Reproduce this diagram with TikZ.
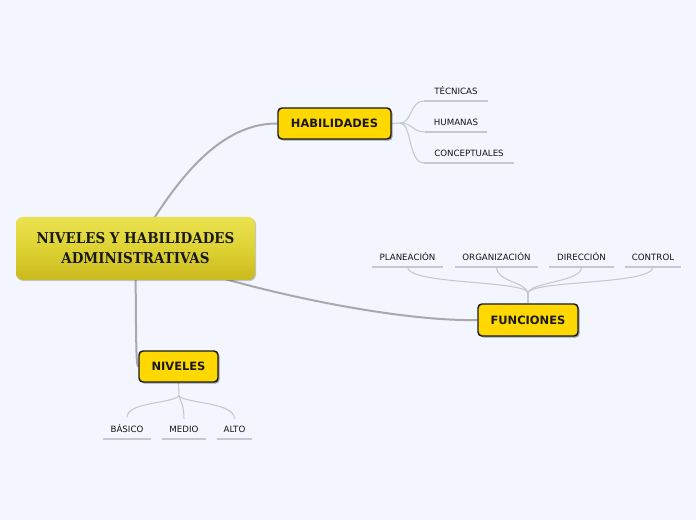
\documentclass[tikz,border=0pt]{standalone}
\usepackage{fontspec}
\setmainfont{DejaVu Sans}
\newfontfamily\titlefont{DejaVu Serif}
\usetikzlibrary{shadows,backgrounds}
\definecolor{bg}{HTML}{F3F6FE}
\definecolor{gold}{HTML}{FFD800}
\definecolor{mainline}{HTML}{A8A8AE}
\definecolor{subline}{HTML}{C6C8CE}
\definecolor{ttop}{HTML}{EAE250}
\definecolor{tmid}{HTML}{DED233}
\definecolor{tbot}{HTML}{CBB91E}
\tikzset{
  x=0.75pt, y=-0.75pt,
  topic/.style={draw=black!90, line width=1.1pt, fill=gold, rounded corners=3pt,
    font=\fontsize{8.6pt}{10pt}\selectfont\bfseries, text=black!90,
    drop shadow={shadow xshift=1.2pt, shadow yshift=-1.2pt, opacity=0.35, fill=black},
    inner sep=0pt},
  central/.style={rounded corners=5pt, top color=ttop, bottom color=tbot, middle color=tmid,
    draw=none, inner sep=0pt, align=center, text=black!90,
    font=\titlefont\fontsize{11.2pt}{15pt}\selectfont\bfseries,
    drop shadow={shadow xshift=0.8pt, shadow yshift=-0.8pt, opacity=0.2, fill=black}},
  leaf/.style={font=\fontsize{6.5pt}{8pt}\selectfont, text=black!92, inner xsep=0pt,
    inner ysep=4.9pt, text depth=0pt, anchor=south},
  mainconn/.style={draw=mainline, line width=1.5pt},
  subconn/.style={draw=subline, line width=0.8pt},
  uline/.style={draw=subline, line width=1.1pt},
}
\begin{document}
\begin{tikzpicture}
\useasboundingbox (0,0) rectangle (696,520);

% main nodes
\node[central, minimum width=239*0.75pt, minimum height=63*0.75pt] (c) at (135.5,248.5)
  {\scalebox{0.9}[1]{NIVELES Y HABILIDADES}\\\scalebox{0.9}[1]{ADMINISTRATIVAS}};
\node[topic, minimum width=113*0.75pt, minimum height=31*0.75pt] (h) at (334.5,123.5) {HABILIDADES};
\node[topic, minimum width=100*0.75pt, minimum height=32*0.75pt] (f) at (528,320) {FUNCIONES};
\node[topic, minimum width=79*0.75pt, minimum height=31*0.75pt] (n) at (178.5,366.5) {NIVELES};

% leaves: HABILIDADES
\node[leaf, minimum width=64*0.75pt] (h1) at (456,101) {TÉCNICAS};
\node[leaf, minimum width=62*0.75pt] (h2) at (456,132) {HUMANAS};
\node[leaf, minimum width=89*0.75pt] (h3) at (469,163) {CONCEPTUALES};
% leaves: FUNCIONES
\node[leaf, minimum width=71*0.75pt] (f1) at (407.5,267) {PLANEACIÓN};
\node[leaf, minimum width=83*0.75pt] (f2) at (496.5,267) {ORGANIZACIÓN};
\node[leaf, minimum width=65*0.75pt] (f3) at (581.5,267) {DIRECCIÓN};
\node[leaf, minimum width=56*0.75pt] (f4) at (653,267) {CONTROL};
% leaves: NIVELES
\node[leaf, minimum width=48*0.75pt] (n1) at (127,439) {BÁSICO};
\node[leaf, minimum width=44*0.75pt] (n2) at (184,439) {MEDIO};
\node[leaf, minimum width=35*0.75pt] (n3) at (234.5,439) {ALTO};

\coordinate (hj) at (400,123);
\coordinate (fj) at (528,293);
\coordinate (nj) at (179,396);

\begin{pgfonlayer}{background}
\fill[bg] (0,0) rectangle (696,520);
% main connectors
\draw[mainconn] (c.center) .. controls (170,190) and (215,123) .. (h.west);
\draw[mainconn] (c.center) .. controls (220,285) and (390,322) .. (f.west);
\draw[mainconn] (c.center) .. controls (136,340) and (136,366) .. (n.west);
% underlines
\foreach \t in {h1,h2,h3,f1,f2,f3,f4,n1,n2,n3}
  \draw[uline] (\t.south west) -- (\t.south east);
% HABILIDADES branches
\draw[subconn] (h.east) -- (hj);
\draw[subconn] (hj) .. controls (412,123) and (410,101) .. (h1.south west);
\draw[subconn] (hj) .. controls (412,123) and (413,132) .. (h2.south west);
\draw[subconn] (hj) .. controls (412,123) and (408,163) .. (h3.south west);
% FUNCIONES branches
\draw[subconn] (f.north) -- (fj);
\draw[subconn] (fj) .. controls (525,280) and (408,285) .. (f1.south);
\draw[subconn] (fj) .. controls (526,282) and (497,282) .. (f2.south);
\draw[subconn] (fj) .. controls (530,282) and (582,282) .. (f3.south);
\draw[subconn] (fj) .. controls (531,280) and (653,285) .. (f4.south);
% NIVELES branches
\draw[subconn] (n.south) -- (nj);
\draw[subconn] (nj) .. controls (170,404) and (127,402) .. (n1.north);
\draw[subconn] (nj) .. controls (181,402) and (184,406) .. (n2.north);
\draw[subconn] (nj) .. controls (188,404) and (234,402) .. (n3.north);
\end{pgfonlayer}
\end{tikzpicture}
\end{document}
